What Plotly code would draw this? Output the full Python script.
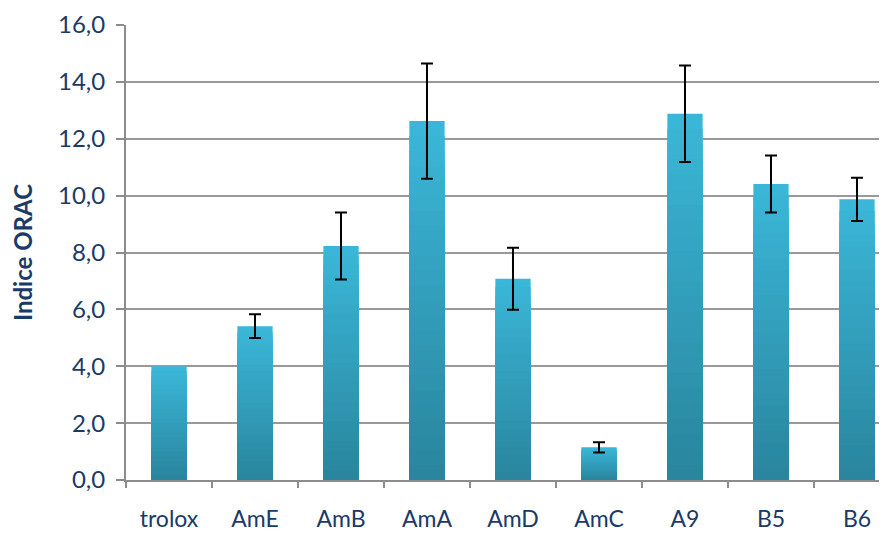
import plotly.graph_objects as go

categories = ["trolox", "AmE", "AmB", "AmA", "AmD", "AmC", "A9", "B5", "B6"]
values = [4.0, 5.41, 8.23, 12.62, 7.08, 1.15, 12.88, 10.41, 9.87]
errors = [None, 0.42, 1.18, 2.03, 1.09, 0.18, 1.70, 1.00, 0.76]
y_ticks = [0, 2, 4, 6, 8, 10, 12, 14, 16]
y_tick_labels = ["0,0", "2,0", "4,0", "6,0", "8,0", "10,0", "12,0", "14,0", "16,0"]

top_rgb = (58, 182, 216)
bot_rgb = (42, 134, 158)
N = 24
BAR_W = 0.41

fig = go.Figure()
for k in range(N):
    frac = 1 - k / N
    t = k / (N - 1)
    c = tuple(round(top_rgb[i] + (bot_rgb[i] - top_rgb[i]) * t) for i in range(3))
    fig.add_trace(go.Bar(
        x=categories, y=[v * frac for v in values],
        width=BAR_W, marker=dict(color="rgb(%d,%d,%d)" % c, line=dict(width=0)),
        hoverinfo="skip", showlegend=False))

err_idx = [i for i, e in enumerate(errors) if e is not None]
fig.add_trace(go.Bar(
    x=[categories[i] for i in err_idx], y=[values[i] for i in err_idx], width=BAR_W,
    marker=dict(color="rgba(0,0,0,0)", line=dict(width=0)),
    error_y=dict(type="data", array=[errors[i] for i in err_idx], visible=True,
                 color="black", thickness=2, width=6),
    showlegend=False))

navy = "#1a3a68"
fig.update_layout(
    barmode="overlay",
    width=879, height=525,
    margin=dict(l=118, r=0, t=17, b=53, autoexpand=False),
    plot_bgcolor="white", paper_bgcolor="white",
    font=dict(family="Lato", color=navy, size=24),
)
fig.update_xaxes(
    type="category", categoryorder="array", categoryarray=categories,
    range=[-0.5, 8.349], automargin=False,
    showline=True, linecolor="#8c8c8c", linewidth=2,
    ticks="outside", ticklen=6, tickcolor="#8c8c8c", tickwidth=2,
    tickson="boundaries", ticklabelstandoff=17,
    tickfont=dict(size=23, color=navy), showgrid=False,
)
fig.update_yaxes(
    range=[0, 16], tickvals=y_ticks, ticktext=y_tick_labels, automargin=False,
    showline=True, linecolor="#8c8c8c", linewidth=2,
    ticks="outside", ticklen=8, tickcolor="#8c8c8c", tickwidth=2,
    ticklabelstandoff=6,
    showgrid=True, gridcolor="#999999", gridwidth=1.5, zeroline=False,
    tickfont=dict(size=24, color=navy),
    title=dict(text="<b>Indice ORAC</b>", font=dict(size=24, color=navy), standoff=20),
)
fig.write_html("out.html")
